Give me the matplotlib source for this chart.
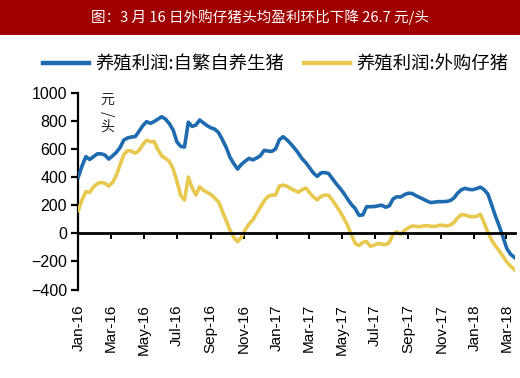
import matplotlib
matplotlib.use("Agg")
import matplotlib.pyplot as plt
import matplotlib.dates as mdates
import pandas as pd
from matplotlib.lines import Line2D

plt.rcParams['font.family'] = ['Liberation Sans', 'Noto Sans CJK SC', 'DejaVu Sans']

title = "图：3 月 16 日外购仔猪头均盈利环比下降 26.7 元/头"
series_names = ["养殖利润:自繁自养生猪", "养殖利润:外购仔猪"]
unit_label = "元/头"

# weekly (Friday) observations, 2016-01-01 .. 2018-03-16
dates = pd.date_range("2016-01-01", "2018-03-16", freq="7D")

self_bred = [
    400, 480, 545, 525, 545, 565, 565, 557, 528, 550,
    575, 610, 663, 678, 685, 687, 725, 765, 794, 782,
    795, 812, 829, 812, 780, 735, 650, 618, 614, 790,
    760, 770, 806, 785, 765, 750, 740, 715, 665, 610,
    540, 495, 457, 490, 513, 533, 522, 535, 552, 590,
    585, 582, 600, 665, 687, 665, 637, 605, 570, 530,
    502, 465, 428, 405, 430, 432, 425, 388, 352, 320,
    285, 243, 205, 176, 128, 130, 189, 189, 190, 195,
    200, 185, 195, 245, 260, 258, 275, 285, 283, 268,
    255, 242, 228, 218, 222, 225, 225, 226, 232, 250,
    285, 310, 320, 312, 310, 318, 328, 310, 278, 200,
    120, 50, -30, -110, -150, -172,
]

purchased = [
    160, 240, 296, 291, 330, 352, 362, 356, 335, 360,
    410, 486, 560, 588, 585, 569, 588, 630, 662, 651,
    652, 595, 550, 533, 510, 460, 370, 268, 237, 400,
    325, 272, 330, 305, 290, 275, 250, 222, 155, 90,
    22, -30, -60, -28, 25, 65, 95, 140, 185, 230,
    262, 272, 272, 335, 343, 335, 318, 305, 292, 310,
    322, 288, 258, 238, 262, 272, 270, 235, 195, 155,
    108, 55, -10, -72, -88, -65, -58, -92, -85, -72,
    -78, -82, -65, -5, 11, -8, 20, 38, 52, 49,
    47, 52, 54, 50, 48, 56, 58, 52, 58, 75,
    110, 132, 130, 120, 118, 120, 135, 75, 5, -50,
    -90, -125, -165, -205, -235, -258,
]

yticks = [-400, -200, 0, 200, 400, 600, 800, 1000]

blue = "#1F6BAF"
gold = "#E8C84E"
fam = ['Noto Sans CJK SC', 'DejaVu Sans']

fig = plt.figure(figsize=(5.2, 3.78), dpi=100)

# title bar
fig.patches.append(plt.Rectangle((0, 1 - 35 / 378), 1, 35 / 378, transform=fig.transFigure,
                                 facecolor="#A00000", edgecolor="none", zorder=0))
fig.text(0.5, 1 - 17.5 / 378, title, color="white", ha="center", va="center",
         fontsize=10.5, family=fam)

L, R, T, B = 78.3, 514.5, 92.7, 289.5
ax = fig.add_axes([L / 520, 1 - B / 378, (R - L) / 520, (B - T) / 378])
ax.plot(dates, self_bred, color=blue, lw=2.6, solid_joinstyle="round", zorder=3)
ax.plot(dates, purchased, color=gold, lw=2.6, solid_joinstyle="round", zorder=3)

ax.set_ylim(-400, 1000)
ax.set_yticks(yticks)
ax.set_xlim(pd.Timestamp("2016-01-01"), pd.Timestamp("2018-03-16"))

for s in ["top", "right"]:
    ax.spines[s].set_visible(False)
ax.spines["left"].set_linewidth(1.6)
ax.spines["bottom"].set_position(("data", 0))
ax.spines["bottom"].set_linewidth(2.0)
ax.spines["bottom"].set_zorder(4)

ax.xaxis.set_major_locator(mdates.MonthLocator(bymonth=[1, 3, 5, 7, 9, 11]))
ax.xaxis.set_major_formatter(mdates.DateFormatter("%b-%y"))
ax.tick_params(axis="x", direction="out", length=4, width=1.4, pad=47,
               labelsize=11, rotation=90)
for lbl in ax.get_xticklabels():
    lbl.set_va("top")
ax.tick_params(axis="y", direction="out", length=5, width=1.6, labelsize=11.5, pad=3)


def px(x, y):
    return ((x - L) / (R - L), (B - y) / (B - T))


# unit label, set vertically
for ch, (xx, yy), rot in [(unit_label[0], (107, 100), 0),
                          (unit_label[1], (107, 113.5), -90),
                          (unit_label[2], (107, 127), 0)]:
    ax.text(*px(xx, yy), ch, transform=ax.transAxes, fontsize=10, ha="center", va="center",
            rotation=rot, family=fam, color="#222222")

# legend
handles = [Line2D([], [], color=blue, lw=3.2), Line2D([], [], color=gold, lw=3.2)]
fig.legend(handles, series_names, loc="center", bbox_to_anchor=(0.53, 1 - 64 / 378),
           ncol=2, frameon=False, handlelength=2.5, handletextpad=0.35, columnspacing=1.1,
           prop={"family": fam, "size": 13.2})

fig.savefig("out.png", dpi=100, facecolor="white")
